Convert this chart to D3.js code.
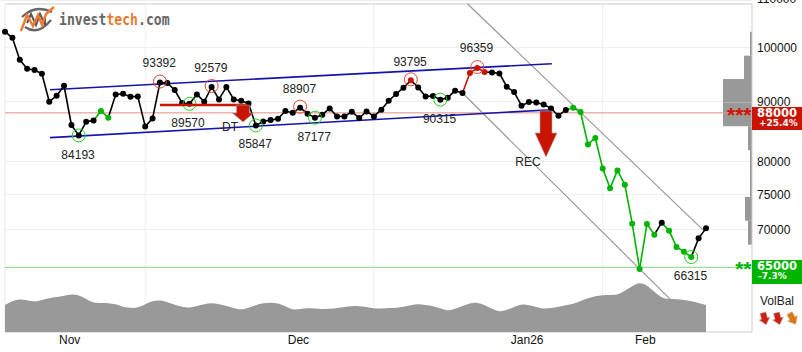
<!DOCTYPE html>
<html>
<head>
<meta charset="utf-8">
<script src="https://cdn.jsdelivr.net/npm/d3@7"></script>
<style>
  html,body{margin:0;padding:0;background:#fff;overflow:hidden;}
  svg{display:block;}
  text{font-family:"Liberation Sans",Arial,sans-serif;}
</style>
</head>
<body>
<div id="chart"></div>
<script>
// Kurs, daglig
const closes = [
  103180,101970,97670,95960,95710,95020,89950,91010,92810,85930,
  84193,86490,86710,88320,87170,91240,91370,90830,90890,85690,
  87050,93392,93310,92030,89720,89570,91240,89950,92579,90350,
  92580,90350,90120,89650,85847,86540,86780,87000,88320,88030,
  88907,87860,87177,87680,88770,87390,87390,88200,87120,88250,
  87390,88550,90120,91320,92450,93795,92500,90890,90960,90315,
  90660,91910,91490,95150,96090,95340,95270,95080,92630,91670,
  89240,89890,89820,89470,88770,87510,88500,88900,88150,82720,
  83770,78920,75890,78610,76440,70810,64790,70770,69300,70950,
  69840,67650,67020,66315,68800,70160
];
const volumes = [
  27,31,33,32,30,32,34,35,36,38,37,33,29,29,29,28,25,24,24,28,
  31,32,30,27,25,24,26,28,29,28,26,24,22,24,27,29,29.5,29,26,22,
  23,24,23.5,23,23,24,25,26,26,25,23.5,23.5,24,24,25,27,28,27,26,24,
  21,23,26,29,29.5,27,23,20,22,25,28,27,25,23,24,25,27,28,31,34,
  36,37,37,37,41,46,50,47,40,34,33,33,32,31,29,27
];
const greenPts = [13,14,77,78,79,80,81,82,83,84,85,86,87,88,90,91,92,93];
const redPts   = [63,64,65];
const redDots  = [55];

// topper og bunner
const pivotIdx   = [10,21,25,28,34,40,42,55,59,64,93];
const pivotLabel = ["84193","93392","89570","92579","85847","88907","87177","93795","90315","96359","66315"];
const pivotType  = ["low","high","low","high","low","high","low","high","low","high","low"];
const labelIdx   = [9.9,20.9,24.8,27.9,33.9,39.9,41.9,54.9,58.9,63.9,92.9];
const labelPrice = [81070,97040,86370,96150,82840,92330,84030,97350,87000,100100,63980];

// trendkanaler [idx0, kurs0, idx1, kurs1]
const blueUpper = [6.1,92090,74.1,96900];
const blueLower = [6.1,83820,74.1,88550];
const greyUpper = [62.67,109000,94.7,69840];
const greyLower = [62,91490,90.2,61000];

const priceTicks = [110000,100000,90000,80000,75000,70000];
const gridPrices = [100000,90000,80000,75000,70000];
const monthGrid  = [19,50,81];
const monthIdx   = [8.7,39.7,70.7,86.7];
const monthNames = ["Nov","Dec","Jan26","Feb"];

// kursfordeling til høyre
const profileEdges  = [103170,98450,94040,89820,85720,81790,78050,74630,71220,67950];
const profileCounts = [2,8,29,29,4,2,2,7,4];

const RED = "#c81400", GREEN = "#00b400";
const width = 802, height = 352;
const frame = {left:5,right:752,top:4,bottom:332};

const svg = d3.select("#chart").append("svg").attr("width",width).attr("height",height);

const x = d3.scaleLinear().domain([0,95]).range([5,706]);
const y = d3.scaleLog().domain([65000,100000]).range([267.3,47.7]);
const yVol = d3.scaleLinear().domain([0,50]).range([frame.bottom,frame.bottom-50]);
const xProf = d3.scaleLinear().domain([0,96]).range([frame.right,frame.right-96]);

// Grid
svg.append("g").selectAll("line").data(gridPrices).join("line")
  .attr("x1",frame.left).attr("x2",frame.right)
  .attr("y1",d=>y(d)).attr("y2",d=>y(d))
  .attr("stroke","#eee");
svg.append("g").selectAll("line").data(monthGrid).join("line")
  .attr("x1",d=>x(d)).attr("x2",d=>x(d))
  .attr("y1",frame.top).attr("y2",frame.bottom)
  .attr("stroke","#eee");

// Fordeling
svg.append("g").selectAll("rect").data(profileCounts).join("rect")
  .attr("x",d=>xProf(d))
  .attr("y",(d,i)=>y(profileEdges[i]))
  .attr("width",d=>xProf(0)-xProf(d))
  .attr("height",(d,i)=>y(profileEdges[i+1])-y(profileEdges[i]))
  .attr("fill","#999");

// Ramme
svg.append("path")
  .attr("d",`M${frame.left},${frame.top}H${frame.right}V${frame.bottom}H${frame.left}`)
  .attr("fill","none").attr("stroke","#ccc").attr("stroke-width",1);
svg.append("line").attr("x1",frame.left).attr("x2",frame.left)
  .attr("y1",frame.top).attr("y2",frame.bottom).attr("stroke","#e6e6e6");
svg.append("line").attr("x1",0).attr("x2",frame.right).attr("y1",0.5).attr("y2",0.5).attr("stroke","#eee");

// Støtte / motstand
svg.append("line").attr("x1",frame.left).attr("x2",frame.right)
  .attr("y1",y(88000)).attr("y2",y(88000)).attr("stroke","#e28d84");
svg.append("line").attr("x1",frame.left).attr("x2",frame.right)
  .attr("y1",y(65000)).attr("y2",y(65000)).attr("stroke","#86d486");

// Volum
svg.append("path").datum(volumes)
  .attr("fill","#999")
  .attr("d",d3.area().x((d,i)=>x(i)).y0(yVol(0)).y1(d=>yVol(d)).curve(d3.curveBasis));

// Trendkanaler
function channel(c,color,w){
  svg.append("line")
    .attr("x1",x(c[0])).attr("y1",y(c[1]))
    .attr("x2",x(c[2])).attr("y2",y(c[3]))
    .attr("stroke",color).attr("stroke-width",w);
}
channel(greyUpper,"#999",1.2);
channel(greyLower,"#999",1.2);
channel(blueUpper,"#1414aa",1.6);
channel(blueLower,"#1414aa",1.6);

// Kurslinje, farge etter signal
const colorAt = i => greenPts.includes(i) ? GREEN : redPts.includes(i) ? RED : "#000";
svg.append("g").selectAll("line").data(closes.slice(1)).join("line")
  .attr("x1",(d,i)=>x(i)).attr("y1",(d,i)=>y(closes[i]))
  .attr("x2",(d,i)=>x(i+1)).attr("y2",d=>y(d))
  .attr("stroke",(d,i)=>colorAt(i+1)).attr("stroke-width",1.6);
svg.append("g").selectAll("circle").data(closes).join("circle")
  .attr("cx",(d,i)=>x(i)).attr("cy",d=>y(d)).attr("r",3)
  .attr("fill",(d,i)=>redDots.includes(i) ? RED : colorAt(i));

// Topper og bunner
svg.append("g").selectAll("circle").data(pivotIdx).join("circle")
  .attr("cx",d=>x(d)).attr("cy",(d,i)=>y(closes[d])-(pivotType[i]==="high"?1:0)).attr("r",6.5)
  .attr("fill","none").attr("stroke-width",1)
  .attr("stroke",(d,i)=>pivotType[i]==="high" ? "#e8452f" : "#1fd01f");
svg.append("g").selectAll("text").data(pivotLabel).join("text")
  .attr("x",(d,i)=>x(labelIdx[i])).attr("y",(d,i)=>y(labelPrice[i]))
  .attr("text-anchor","middle").attr("dy",".36em")
  .attr("font-size",12).attr("fill","#222").text(d=>d);

// Signalpiler
svg.append("line").attr("x1",160).attr("x2",247).attr("y1",105).attr("y2",105)
  .attr("stroke",RED).attr("stroke-width",2.5);
function arrow(cx,top,shaftW,shaftEnd,headW,tip){
  svg.append("path")
    .attr("d",`M${cx-shaftW/2},${top}H${cx+shaftW/2}V${shaftEnd}H${cx+headW/2}L${cx},${tip}L${cx-headW/2},${shaftEnd}H${cx-shaftW/2}Z`)
    .attr("fill",RED).attr("stroke","#aaa").attr("stroke-width",0.6);
}
arrow(243,105,13,113,21,122);
arrow(546,111,12,133,22,157);
svg.append("text").attr("x",230).attr("y",127).attr("dy",".36em").attr("text-anchor","middle")
  .attr("font-size",12).attr("fill","#222").text("DT");
svg.append("text").attr("x",528).attr("y",161.7).attr("dy",".36em").attr("text-anchor","middle")
  .attr("font-size",12).attr("fill","#222").text("REC");

// Akser
const axisY = svg.append("g").attr("transform",`translate(${frame.right+2},0)`)
  .call(d3.axisRight(y).tickValues(priceTicks).tickSize(0).tickFormat(d3.format("d")));
axisY.select(".domain").remove();
axisY.selectAll("text").attr("font-size",12).attr("fill","#111").attr("font-family","Liberation Sans");

const axisX = svg.append("g").attr("transform",`translate(0,${frame.bottom})`)
  .call(d3.axisBottom(d3.scaleOrdinal().domain(monthNames).range(monthIdx.map(d=>x(d))))
    .tickSize(0).tickPadding(3));
axisX.select(".domain").remove();
axisX.selectAll("text").attr("font-size",12).attr("fill","#111").attr("font-family","Liberation Sans");

// Kursmål
function box(price,y0,y1,color,stars,main,pct,pctX){
  svg.append("rect").attr("x",frame.right).attr("y",y0).attr("width",50).attr("height",y1-y0).attr("fill",color);
  svg.append("text").attr("x",frame.right-0.5).attr("y",y(price)).attr("dy",".42em")
    .attr("text-anchor","end").attr("font-size",21).attr("font-weight","bold").attr("fill",color).text(stars);
  svg.append("text").attr("x",757).attr("y",y0+9.5)
    .style("font-family","DejaVu Sans").attr("font-size",11.5).attr("font-weight","bold").attr("fill","#fff").text(main);
  svg.append("text").attr("x",pctX).attr("y",y0+19)
    .style("font-family","DejaVu Sans").attr("font-size",9).attr("font-weight","bold").attr("fill","#fff").text(pct);
}
box(88000,107,130,RED,"***","88000","+25.4%",759);
box(65000,260,284,GREEN,"**","65000","-7.3%",758);

// Volumbalanse
svg.append("text").attr("x",777).attr("y",301).attr("dy",".36em").attr("text-anchor","middle")
  .attr("font-size",12).attr("fill","#222").text("VolBal");
const volBalX = [764.5,778,792.5];
const volBalColor = ["#d02010","#d02010","#e07810"];
svg.append("g").selectAll("path").data(volBalX).join("path")
  .attr("transform",(d,i)=>`translate(${d},318.5) rotate(${i<2?-15:-30})`)
  .attr("d","M-3,-6H3V0H5.5L0,6.5L-5.5,0H-3Z")
  .attr("fill",(d,i)=>volBalColor[i]).attr("stroke","#aaa").attr("stroke-width",0.5);

// Logo
const logo = svg.append("g");
logo.append("path").attr("d","M22,17Q35,4 52,12").attr("fill","none").attr("stroke","#666").attr("stroke-width",2.4);
logo.append("path").attr("d","M25,27Q38,36 51,20").attr("fill","none").attr("stroke","#666").attr("stroke-width",2.4);
logo.append("path").attr("d","M27,23L31,14L36,25L40,14L45,25V16").attr("fill","none").attr("stroke","#555").attr("stroke-width",2);
logo.append("path").attr("d","M21,31L27,15L33,26L38,15L42,25L46,14L54,7").attr("fill","none").attr("stroke","#f07830").attr("stroke-width",2.4);
const brand = logo.append("text").attr("transform","translate(59,25) scale(.82,1)")
  .style("font-family","DejaVu Sans Mono")
  .attr("font-size",16).attr("font-weight","bold").attr("fill","#666");
brand.append("tspan").text("invest");
brand.append("tspan").attr("fill","#ea7a2e").text("tech");
brand.append("tspan").text(".com");
</script>
</body>
</html>
